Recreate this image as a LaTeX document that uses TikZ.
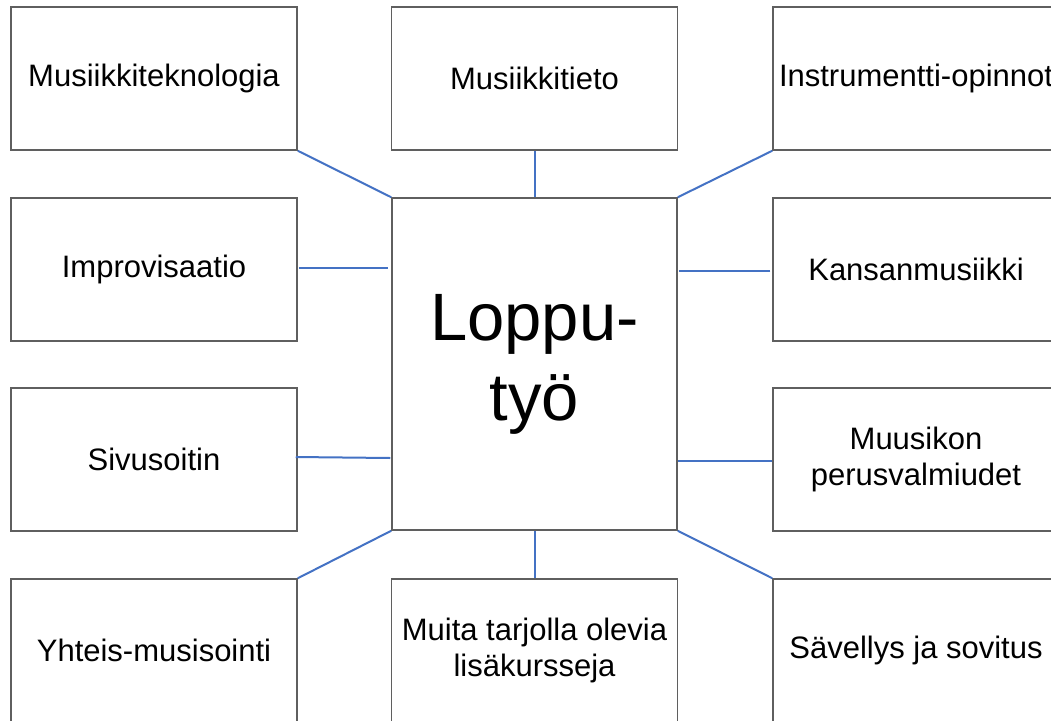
\documentclass[tikz,border=0pt]{standalone}
\usepackage{fontspec}
\setmainfont{Liberation Sans}
\definecolor{boxgray}{RGB}{95,95,95}
\definecolor{linkblue}{RGB}{68,114,196}
\begin{document}
\begin{tikzpicture}[x=1pt,y=-1pt,
  topic/.style={draw=boxgray,line width=1.5pt,minimum width=286pt,minimum height=143pt,inner sep=0pt,align=center,font=\fontsize{31}{36}\selectfont},
  hub/.style={draw=boxgray,line width=1.5pt,minimum width=285pt,minimum height=332pt,inner sep=0pt,align=center,font=\fontsize{67}{80}\selectfont},
  link/.style={draw=linkblue,line width=2pt}]
\useasboundingbox (0,0) rectangle (1051,720);
\clip (0,0) rectangle (1051,720);
\node[hub] (c) at (534.5,364) {Loppu-\\työ};
\node[topic] (tl) at (154,78.5) {Musiikkiteknologia};
\node[topic] (tm) at (534.5,78.5) {Musiikkitieto};
\node[topic] (tr) at (916,78.5) {Instrumentti-opinnot};
\node[topic] (ml) at (154,269.5) {Improvisaatio};
\node[topic] (mr) at (916,269.5) {Kansanmusiikki};
\node[topic] (sl) at (154,459.5) {Sivusoitin};
\node[topic] (sr) at (916,459.5) {Muusikon\\perusvalmiudet};
\node[topic] (bl) at (154,650.5) {Yhteis-musisointi};
\node[topic] (bm) at (534.5,650.5) {Muita tarjolla olevia\\lisäkursseja};
\node[topic] (br) at (916,650.5) {Sävellys ja sovitus};
\draw[link] (tl.south east) -- (c.north west);
\draw[link] (tm.south) -- (c.north);
\draw[link] (tr.south west) -- (c.north east);
\draw[link] ([xshift=1pt,yshift=1.5pt]ml.east) -- ([xshift=-3pt,yshift=1.5pt]c.west |- ml.east);
\draw[link] ([xshift=-2pt,yshift=-1.5pt]mr.west) -- ([xshift=1pt,yshift=-1.5pt]c.east |- mr.west);
\draw[link] ([xshift=-2pt,yshift=2.5pt]sl.east) -- ([xshift=-1pt,yshift=1.5pt]c.west |- sl.east);
\draw[link] ([yshift=-1.5pt]sr.west) -- ([yshift=-1.5pt]c.east |- sr.west);
\draw[link] (bl.north east) -- (c.south west);
\draw[link] (bm.north) -- (c.south);
\draw[link] (br.north west) -- (c.south east);
\end{tikzpicture}
\end{document}
